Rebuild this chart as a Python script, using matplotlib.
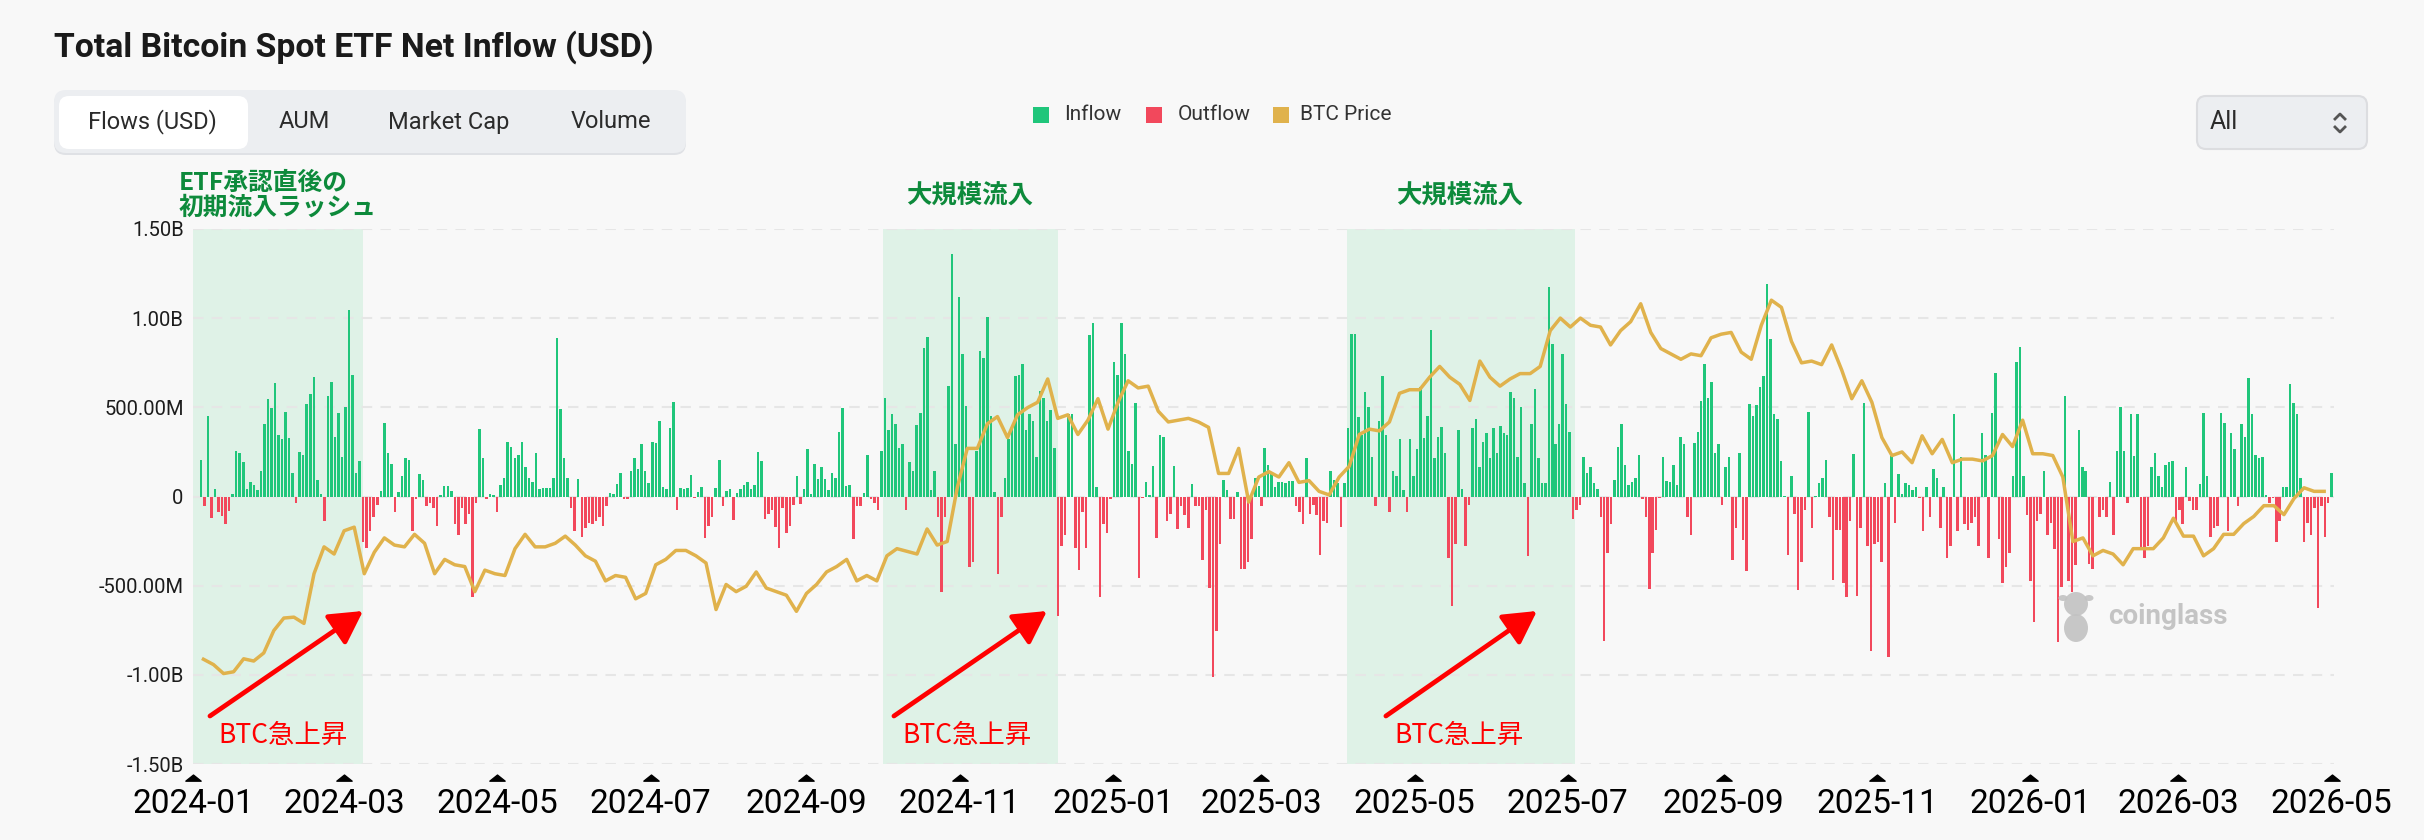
import numpy as np
import pandas as pd
import matplotlib
matplotlib.use("Agg")
import matplotlib.pyplot as plt
import matplotlib.dates as mdates
from matplotlib.patches import FancyBboxPatch, FancyArrowPatch, Rectangle, Ellipse, Circle
from matplotlib.transforms import IdentityTransform
from matplotlib.lines import Line2D
from matplotlib.path import Path

# ---------------- data ----------------
# daily net flows (million USD), 2024-01-04 .. 2025-02-28
flows_a = [
    204, -52, 454, -122, 44, -86, -112, -156, -80, 14,
    254, 244, 194, 40, 80, 64, 34, 144, 404, 544,
    494, 634, 344, 324, 474, 328, 134, -36, 248, 234,
    520, 574, 670, 90, 16, -136, 564, 644, 334, 470,
    224, 504, 1044, 684, 134, 198,
    -256, -286, -196, -116, -46, 30, 414, 244, 184, -86,
    24, 114, 214, 204, -196, -16, 124, 90, -56, -36,
    -66, -166, 10, 60, 60, 30, -156, -216, -66, -156,
    -96, -566, -36, 380, 214, -12, 12, 6, -86, 64,
    104, 304, 280, 214, 234, 304, 164, 104, 80, 244,
    44, 48, 48, 48, 104, 888, 490, 214, 104, -66,
    -196, 100, -226, -176, -146, -156, -136, -116, -166, -56,
    20, 12, 70, 130, -16, -12, 144, 214, 154, 294,
    144, 74, 308, 300, 424, 54, 44, 384, 530, -76,
    48, 44, 50, 120, -6, 28, 54, -232, -166, -116,
    48, 204, -56, 30, 44, -132, 18, 44, 64, 84,
    44, 64, 248, 200, -126, -96, -76, -172, -286, -66,
    -206, -166, -46, 114, -42, 40, 264, 14, 184, 100,
    164, 100, 34, 134, 104, 364, 494, 60, 64, -236,
    -56, -52, 20, 234, -16, -36, -76,
    254, 554, 374, 464, 404, 270, 294, -76, 194, 144,
    400, 470, 834, 894, 34, 144, -116, -536, -116, 620,
    1358, 294, 1120, 800, 510, -396, -366, 254, 814, 774,
    1004, 454, 24, -436, -116, 104, 320, 384, 674, 684,
    744, 374, 460, 424, 224, 594, 554, 424, 484, 274,
    -672, -276, -216, 464, 464, -286, -412, -86, -286, 908,
    974, 54, -566, -156, -206, -16, 754, 684, 974, 800,
    254, 184, 524, -456, -6, 84, 10, 172, -232, 344,
    334, -136, -96, 172, -180, -56, -106, -176, 70, -56,
    -56, -356, -76, -512, -1012, -752, -266, 94, 34, -126,
    -126, 24, -406, -406, -366, -236, 104, 60,
]
# daily net flows (million USD), 2025-03-01 .. 2026-05-01
flows_b = [
    -56, 274, 174, 124, 54, 84, 84, 74, 88, 88,
    -56, -86, -156, 218, -96, -46, -106, -326, -136, -146,
    144, 94, 74, -172, 74, 384, 914, 914, 444, 344,
    588, 504, 224, -56, 424, 674, 344, -86, 144, 114,
    324, 34, -86, 320, 114, 264, 614, 328, 454, 934,
    214, 334, 388, 244, -346, -616, -266, 374, 44, -276,
    -46, 384, 434, 164, 304, 354, 214, 384, 244, 394,
    354, 344, 584, 554, 224, 504, 74, -336, 404, 604,
    214, 74, 74, 1174, 854, 294, 404, 800, 520, 364,
    -126, -76, -46, 224, 134, 164, 74, 44, -116, -812,
    -316, -156, 94, 280, 404, 174, 64, 84, 104, 234,
    -12, -116, -516, -316, -186, -6, 224, 88, 84, 174,
    64, 334, 294, -116, -216, 300, 364, 534, 744, 554,
    644, 244, 294, -46, 164, 224, -356, -176, 244, -246,
    -416, 520, 454, 514, 614, 674, 1194, 884, 464, 434,
    200, 4, -326, 114, -96, -526, -366, -76, 474, -176,
    4, 74, 104, 204, -116, -466, -186, -186, -486, -566,
    -136, 240, -556, -176, 524, -276, -866, -266, -256, -366,
    74, -900, 228, -146, 124, 14, 74, 64, 34, 54,
    -6, -196, 54, -116, 154, 104, -176, 54, -346, -276,
    460, -196, 224, -156, -186, -146, -116, -276, 354, 234,
    -346, 470, 694, -236, -486, -396, -316, 114, 754, 840,
    114, -106, -476, -706, -136, -96, 144, -216, -146, -296,
    -816, -506, 564, -476, -536, -386, 374, 164, 144, -376,
    -406, -4, -116, -76, -116, 84, -216, 254, 504, 254,
    -36, 464, 228, 464, -286, -346, -276, 164, 244, 114,
    54, 174, 194, 200, -146, -76, -156, 164, -26, -76,
    -76, 68, 470, 114, -226, -176, -166, 470, 410, -196,
    354, 264, -56, 408, 334, 664, 464, 234, 214, 224,
    8, -36, -6, -256, -136, 54, 54, 630, 524, 464,
    104, -256, -146, -216, -66, -626, -56, -226, -36, 134,
]
flows_a_span = ("2024-01-04", "2025-02-28")
flows_b_span = ("2025-03-01", "2026-05-01")

# BTC price (thousand USD), every 4 days from 2024-01-05
btc_price_k = [
    43.1, 41.9, 39.9, 40.3, 43.2, 42.7, 44.5, 49.5, 52.3, 52.5,
    51.1, 62.2, 68.2, 66.6, 71.8, 72.6, 62.2, 67.0, 70.2, 68.6,
    68.2, 71.0, 69.0, 62.2, 65.4, 64.2, 63.8, 58.2, 63.0, 62.2,
    61.8, 67.8, 71.0, 68.2, 68.2, 69.0, 70.6, 68.6, 66.2, 65.0,
    60.6, 61.8, 61.4, 56.6, 57.8, 64.2, 65.4, 67.4, 67.4, 66.2,
    64.6, 54.2, 59.8, 58.2, 59.4, 62.6, 59.0, 58.2, 57.4, 53.8,
    57.8, 59.8, 62.6, 63.8, 65.4, 60.6, 61.8, 60.6, 66.2, 67.8,
    67.2, 66.6, 72.2, 68.6, 69.4, 81.4, 90.2, 90.2, 95.7, 97.3,
    92.6, 97.7, 99.3, 100.5, 105.7, 96.9, 97.7, 93.3, 96.5, 101.3,
    94.5, 100.5, 105.3, 103.7, 104.1, 98.5, 96.1, 96.5, 96.9, 96.1,
    94.9, 84.6, 84.6, 90.2, 78.2, 83.8,
    85.0, 83.8, 87.0, 82.6, 83.0, 80.6, 79.8, 83.8, 86.2, 93.3,
    94.5, 94.1, 96.1, 102.5, 103.3, 103.3, 106.1, 108.5, 106.1, 104.5,
    100.9, 109.7, 106.1, 104.1, 105.7, 106.9, 106.9, 108.5, 116.5, 119.3,
    117.3, 119.3, 117.7, 117.3, 113.3, 116.5, 118.5, 122.5, 116.1, 112.5,
    111.3, 110.1, 111.3, 110.9, 114.9, 115.7, 116.1, 111.7, 110.1, 117.7,
    123.3, 121.7, 114.1, 109.3, 109.7, 108.9, 113.3, 107.7, 101.3, 105.3,
    100.5, 92.6, 88.6, 89.4, 87.0, 93.0, 89.0, 92.2, 87.0, 87.8,
    87.8, 87.4, 88.6, 93.3, 90.6, 96.5, 89.0, 89.0, 88.6, 83.8,
    69.4, 70.2, 66.2, 67.4, 66.6, 64.2, 67.8, 67.8, 67.8, 70.2,
    74.6, 70.6, 70.6, 66.2, 67.8, 71.0, 71.0, 73.4, 75.0, 77.4,
    77.4, 75.4, 79.0, 81.4, 80.6, 80.6,
]
btc_start = "2024-01-05"

y_ticks = [-1500, -1000, -500, 0, 500, 1000, 1500]
y_tick_labels = ["-1.50B", "-1.00B", "-500.00M", "0", "500.00M", "1.00B", "1.50B"]
x_tick_dates = pd.date_range("2024-01-01", "2026-05-01", freq="2MS")
x_tick_labels = [d.strftime("%Y-%m") for d in x_tick_dates]

highlight_spans = [("2024-01-01", "2024-03-08 12:00"),
                   ("2024-10-01 12:00", "2024-12-10"),
                   ("2025-04-04", "2025-07-04")]
tabs = ["Flows (USD)", "AUM", "Market Cap", "Volume"]

# ---------------- style ----------------
W, H = 2424, 840
BG = "#f8f8f8"
GREEN = "#20c67b"
RED = "#f2485c"
GOLD = "#e0b24c"
ANN_GREEN = "#0d8a3b"
CJK = ["Noto Sans CJK JP", "DejaVu Sans"]
plt.rcParams["font.family"] = ["Roboto", "DejaVu Sans"]

fig = plt.figure(figsize=(W / 100, H / 100), dpi=100, facecolor=BG)
ax_left, ax_right, ax_top, ax_bot = 193.4, 2334.2, 229, 764
ax = fig.add_axes([ax_left / W, 1 - ax_bot / H, (ax_right - ax_left) / W, (ax_bot - ax_top) / H])
ax.set_facecolor(BG)
for s in ax.spines.values():
    s.set_visible(False)

dates_a = pd.date_range(*flows_a_span, periods=len(flows_a))
dates_b = pd.date_range(*flows_b_span, periods=len(flows_b))
dates = dates_a.append(dates_b)
flows = np.array(flows_a + flows_b, dtype=float)
colors = [GREEN if v >= 0 else RED for v in flows]
ax.bar(dates, flows, width=1.0, color=colors, zorder=2, linewidth=0)

for a, b in highlight_spans:
    ax.axvspan(pd.Timestamp(a), pd.Timestamp(b), color="#dff2e7", zorder=0.2, lw=0)

ax.set_xlim(pd.Timestamp("2024-01-01"), pd.Timestamp("2026-05-02"))
ax.set_ylim(-1500, 1500)
ax.set_yticks(y_ticks)
ax.set_yticklabels(y_tick_labels)
ax.tick_params(axis="y", length=0, pad=7, labelsize=14.5, labelcolor="#1c1c1c")
ax.yaxis.grid(True, linestyle=(0, (5, 4)), color="#e6e6e6", lw=1.5)
ax.set_axisbelow(True)
ax.set_xticks([])

# custom x ticks: triangles + labels
tri = Path([(-1, -0.35), (1, -0.35), (0, 0.45), (-1, -0.35)],
           [Path.MOVETO, Path.LINETO, Path.LINETO, Path.CLOSEPOLY])
xt = ax.get_xaxis_transform()
ax.plot(x_tick_dates, [-0.0262] * len(x_tick_dates), linestyle="none", marker=tri,
        markersize=11, color="black", transform=xt, clip_on=False)
for d, lab in zip(x_tick_dates, x_tick_labels):
    ax.text(d, -0.074, lab, transform=xt, ha="center", va="center",
            fontsize=24, color="black")

# BTC price on hidden secondary axis
ax2 = ax.twinx()
ax2.set_ylim(19.7, 139.2)
ax2.axis("off")
price_dates = pd.date_range(btc_start, periods=len(btc_price_k), freq="4D")
ax2.plot(price_dates, btc_price_k, color=GOLD, lw=2.5, solid_joinstyle="round", zorder=3)

# annotations
ax.text(pd.Timestamp("2023-12-26"), 1688, "ETF承認直後の\n初期流入ラッシュ", ha="left", va="center",
        fontsize=17.8, fontweight="bold", color=ANN_GREEN, family=CJK, linespacing=1.02,
        clip_on=False)
for cx in ["2024-11-05", "2025-05-19"]:
    ax.text(pd.Timestamp(cx), 1685, "大規模流入", ha="center", va="center",
            fontsize=18.3, fontweight="bold", color=ANN_GREEN, family=CJK, clip_on=False)

arrows = [("2024-01-07 14:00", "2024-03-08 12:00", "2024-02-05 17:00"),
          ("2024-10-05 19:00", "2024-12-05 17:00", "2024-11-03 22:00"),
          ("2025-04-19 14:00", "2025-06-18 17:00", "2025-05-18 17:00")]
for s, e, t in arrows:
    p0 = (mdates.date2num(pd.Timestamp(s)), -1231)
    p1 = (mdates.date2num(pd.Timestamp(e)), -642)
    arr = FancyArrowPatch(p0, p1, arrowstyle="-|>,head_length=0.9,head_width=0.5",
                          mutation_scale=22, color="#ff0000", lw=3.4, shrinkA=0, shrinkB=0,
                          zorder=6, clip_on=False)
    ax.add_patch(arr)
    ax.text(pd.Timestamp(t), -1338, "BTC急上昇", ha="center", va="center", fontsize=19,
            color="#ff0000", family=CJK, zorder=6)

# ---------------- page chrome ----------------
I = IdentityTransform()


def rrect(x0, y0, x1, y1, r, fc, ec="none", lw=0, z=1):
    p = FancyBboxPatch((x0, H - y1), x1 - x0, y1 - y0,
                       boxstyle=f"round,pad=0,rounding_size={r}",
                       transform=I, fc=fc, ec=ec, lw=lw, zorder=z)
    fig.add_artist(p)


def ftext(x, y, s, **kw):
    fig.text(x, H - y, s, transform=I, **kw)


ftext(54, 47, "Total Bitcoin Spot ETF Net Inflow (USD)", fontsize=24.3, fontweight="bold",
      color="#1a1a1a", ha="left", va="center")

# tab group
rrect(54, 92, 686, 155, 12, "#dfe1e5")
rrect(54, 90, 686, 153, 12, "#eceef1")
rrect(59, 96, 248, 149, 10, "#ffffff")
for lab, cx in zip(tabs, [152, 304, 449, 611]):
    ftext(cx, 122, lab, fontsize=17, color="#2b2b2b", ha="center", va="center")

# legend
for (lab, col, sx, tx) in [("Inflow", GREEN, 1033, 1064), ("Outflow", RED, 1146, 1178),
                           ("BTC Price", GOLD, 1273, 1300)]:
    fig.add_artist(Rectangle((sx, H - 123), 16, 16, transform=I, fc=col, ec="none"))
    ftext(tx, 115, lab, fontsize=15, color="#333333", ha="left", va="center")

# dropdown
rrect(2197, 96, 2367, 149, 9, "#eceef1", ec="#dcdde0", lw=1.5)
ftext(2210, 122, "All", fontsize=18, color="#2b2b2b", ha="left", va="center")
fig.add_artist(Line2D([2335, 2340, 2345], [H - 119, H - 114, H - 119], transform=I,
                      color="#555555", lw=2))
fig.add_artist(Line2D([2335, 2340, 2345], [H - 127, H - 132, H - 127], transform=I,
                      color="#555555", lw=2))

# watermark
wm = "#c2c2c2"
fig.add_artist(Ellipse((2076, H - 628), 24, 28, transform=I, fc=wm, ec="none", alpha=0.9, zorder=8))
fig.add_artist(Circle((2076, H - 604), 12, transform=I, fc=wm, ec="none", alpha=0.9, zorder=8))
fig.add_artist(Ellipse((2063, H - 598), 9, 6, transform=I, fc=wm, ec="none", alpha=0.9, zorder=8))
fig.add_artist(Ellipse((2089, H - 598), 9, 6, transform=I, fc=wm, ec="none", alpha=0.9, zorder=8))
ftext(2168, 616, "coinglass", fontsize=20, fontweight="bold", color=wm, ha="center",
      va="center", alpha=0.95, zorder=8)

fig.savefig("out.png", dpi=100, facecolor=BG)
